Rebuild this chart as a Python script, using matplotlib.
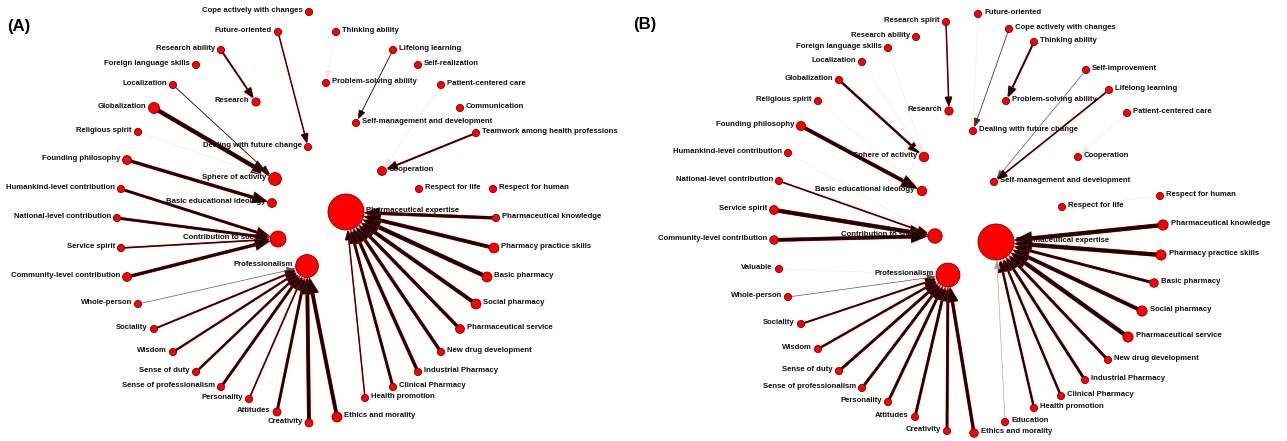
import matplotlib
matplotlib.use("Agg")
import matplotlib.pyplot as plt
from matplotlib.patches import Circle, FancyArrowPatch
import matplotlib.patheffects as pe
import numpy as np

W, H, DPI = 1287, 441, 100
PX_PT = 72 / DPI  # points per pixel

# ---------------- Panel A: ties (source, target, strength) ----------------
a_edges = [
    ("Future-oriented", "Dealing with future change", 1.0),
    ("Research ability", "Research", 1.4),
    ("Localization", "Sphere of activity", 0.9),
    ("Globalization", "Sphere of activity", 4.0),
    ("Religious spirit", "Sphere of activity", 0.3),
    ("Thinking ability", "Problem-solving ability", 0.3),
    ("Lifelong learning", "Self-management and development", 0.9),
    ("Teamwork among health professions", "Cooperation", 1.5),
    ("Patient-centered care", "Cooperation", 0.3),
    ("Founding philosophy", "Basic educational ideology", 3.0),
    ("Humankind-level contribution", "Contribution to society", 2.5),
    ("National-level contribution", "Contribution to society", 2.5),
    ("Service spirit", "Contribution to society", 1.2),
    ("Community-level contribution", "Contribution to society", 3.0),
    ("Whole-person", "Professionalism", 0.7),
    ("Sociality", "Professionalism", 1.5),
    ("Wisdom", "Professionalism", 1.8),
    ("Sense of duty", "Professionalism", 2.0),
    ("Sense of professionalism", "Professionalism", 2.5),
    ("Personality", "Professionalism", 1.2),
    ("Attitudes", "Professionalism", 2.5),
    ("Creativity", "Professionalism", 3.5),
    ("Ethics and morality", "Professionalism", 3.5),
    ("Pharmaceutical knowledge", "Pharmaceutical expertise", 3.0),
    ("Pharmacy practice skills", "Pharmaceutical expertise", 3.5),
    ("Basic pharmacy", "Pharmaceutical expertise", 4.0),
    ("Social pharmacy", "Pharmaceutical expertise", 3.5),
    ("Pharmaceutical service", "Pharmaceutical expertise", 3.0),
    ("New drug development", "Pharmaceutical expertise", 3.0),
    ("Industrial Pharmacy", "Pharmaceutical expertise", 3.0),
    ("Clinical Pharmacy", "Pharmaceutical expertise", 2.5),
    ("Health promotion", "Pharmaceutical expertise", 1.0),
]

# node weight (default 1)
a_weight = {
    "Pharmaceutical expertise": 25, "Professionalism": 10, "Contribution to society": 4.9,
    "Sphere of activity": 3.2, "Globalization": 2.3, "Basic educational ideology": 1.5,
    "Founding philosophy": 1.5, "Community-level contribution": 1.5, "Research": 1.3,
    "Ethics and morality": 1.9, "Pharmacy practice skills": 1.9, "Basic pharmacy": 1.9,
    "Social pharmacy": 1.9, "Pharmaceutical service": 1.5, "Cooperation": 1.5,
    "Creativity": 1.2, "Attitudes": 1.2,
}

# ---------------- Panel B ----------------
b_edges = [
    ("Research spirit", "Research", 1.0),
    ("Future-oriented", "Dealing with future change", 0.3),
    ("Cope actively with changes", "Dealing with future change", 0.8),
    ("Thinking ability", "Problem-solving ability", 1.5),
    ("Self-improvement", "Self-management and development", 0.7),
    ("Lifelong learning", "Self-management and development", 1.2),
    ("Patient-centered care", "Cooperation", 0.3),
    ("Respect for human", "Respect for life", 0.3),
    ("Globalization", "Sphere of activity", 2.0),
    ("Localization", "Sphere of activity", 0.3),
    ("Foreign language skills", "Sphere of activity", 0.3),
    ("Religious spirit", "Basic educational ideology", 0.3),
    ("Founding philosophy", "Basic educational ideology", 3.5),
    ("Humankind-level contribution", "Contribution to society", 0.3),
    ("National-level contribution", "Contribution to society", 1.2),
    ("Service spirit", "Contribution to society", 4.0),
    ("Community-level contribution", "Contribution to society", 3.5),
    ("Valuable", "Professionalism", 0.3),
    ("Whole-person", "Professionalism", 0.7),
    ("Sociality", "Professionalism", 1.5),
    ("Wisdom", "Professionalism", 2.0),
    ("Sense of duty", "Professionalism", 2.5),
    ("Sense of professionalism", "Professionalism", 2.5),
    ("Personality", "Professionalism", 2.5),
    ("Attitudes", "Professionalism", 2.5),
    ("Creativity", "Professionalism", 2.5),
    ("Ethics and morality", "Professionalism", 3.0),
    ("Pharmaceutical knowledge", "Pharmaceutical expertise", 4.0),
    ("Pharmacy practice skills", "Pharmaceutical expertise", 4.0),
    ("Basic pharmacy", "Pharmaceutical expertise", 2.5),
    ("Social pharmacy", "Pharmaceutical expertise", 3.5),
    ("Pharmaceutical service", "Pharmaceutical expertise", 4.0),
    ("New drug development", "Pharmaceutical expertise", 2.5),
    ("Industrial Pharmacy", "Pharmaceutical expertise", 2.5),
    ("Clinical Pharmacy", "Pharmaceutical expertise", 2.0),
    ("Health promotion", "Pharmaceutical expertise", 2.0),
    ("Education", "Pharmaceutical expertise", 0.5),
]

b_weight = {
    "Pharmaceutical expertise": 25, "Professionalism": 11, "Contribution to society": 4.0,
    "Sphere of activity": 1.7, "Basic educational ideology": 1.7, "Founding philosophy": 1.6,
    "Service spirit": 1.5, "Community-level contribution": 1.4, "Research": 1.3,
    "Pharmaceutical knowledge": 2.0, "Pharmacy practice skills": 2.0, "Social pharmacy": 2.0,
    "Pharmaceutical service": 2.0, "Basic pharmacy": 1.4, "Ethics and morality": 1.4,
}

# ---------------- circular layouts (pixel space) ----------------
a_layout = {
    "Cope actively with changes": (309, 12), "Future-oriented": (278, 32),
    "Research ability": (221, 50), "Foreign language skills": (196, 65),
    "Localization": (173, 85), "Research": (256, 102), "Globalization": (154, 108),
    "Religious spirit": (138, 132), "Dealing with future change": (308, 147),
    "Founding philosophy": (127, 160), "Sphere of activity": (275, 179),
    "Humankind-level contribution": (121, 189), "Basic educational ideology": (272, 203),
    "National-level contribution": (117, 218), "Contribution to society": (278, 239),
    "Service spirit": (121, 248), "Community-level contribution": (127, 277),
    "Professionalism": (307, 266), "Whole-person": (138, 304), "Sociality": (154, 329),
    "Wisdom": (173, 352), "Sense of duty": (196, 372), "Sense of professionalism": (221, 387),
    "Personality": (249, 399), "Attitudes": (277, 412), "Creativity": (309, 423),
    "Ethics and morality": (337, 417), "Health promotion": (365, 398),
    "Clinical Pharmacy": (393, 387), "Industrial Pharmacy": (418, 372),
    "New drug development": (441, 352), "Pharmaceutical service": (460, 329),
    "Social pharmacy": (476, 304), "Basic pharmacy": (487, 277),
    "Pharmacy practice skills": (494, 248), "Pharmaceutical knowledge": (496, 218),
    "Pharmaceutical expertise": (346, 212), "Respect for life": (419, 189),
    "Respect for human": (493, 189), "Cooperation": (382, 171),
    "Teamwork among health professions": (476, 133),
    "Self-management and development": (356, 123), "Communication": (460, 108),
    "Patient-centered care": (441, 85), "Problem-solving ability": (326, 83),
    "Self-realization": (418, 65), "Lifelong learning": (393, 50),
    "Thinking ability": (336, 32),
}
a_label_right = {
    "Thinking ability", "Lifelong learning", "Self-realization", "Problem-solving ability",
    "Patient-centered care", "Communication", "Self-management and development",
    "Teamwork among health professions", "Cooperation", "Respect for life",
    "Respect for human", "Pharmaceutical expertise", "Pharmaceutical knowledge",
    "Pharmacy practice skills", "Basic pharmacy", "Social pharmacy",
    "Pharmaceutical service", "New drug development", "Industrial Pharmacy",
    "Clinical Pharmacy", "Health promotion", "Ethics and morality",
}

b_layout = {
    "Research spirit": (946, 22), "Research ability": (916, 37),
    "Foreign language skills": (888, 48), "Localization": (862, 62),
    "Globalization": (839, 80), "Religious spirit": (818, 101), "Research": (949, 111),
    "Founding philosophy": (801, 126), "Humankind-level contribution": (788, 153),
    "Sphere of activity": (924, 157), "National-level contribution": (779, 181),
    "Basic educational ideology": (922, 191), "Service spirit": (774, 210),
    "Community-level contribution": (774, 240), "Contribution to society": (935, 236),
    "Valuable": (779, 269), "Professionalism": (948, 275), "Whole-person": (788, 297),
    "Sociality": (801, 324), "Wisdom": (818, 349), "Sense of duty": (839, 371),
    "Sense of professionalism": (862, 388), "Personality": (888, 402),
    "Attitudes": (915, 417), "Creativity": (947, 431), "Ethics and morality": (974, 433),
    "Education": (1005, 422), "Health promotion": (1034, 408),
    "Clinical Pharmacy": (1061, 396), "Industrial Pharmacy": (1085, 380),
    "New drug development": (1108, 360), "Pharmaceutical service": (1128, 337),
    "Social pharmacy": (1142, 311), "Basic pharmacy": (1154, 283),
    "Pharmacy practice skills": (1161, 255), "Pharmaceutical knowledge": (1163, 225),
    "Pharmaceutical expertise": (996, 242), "Respect for life": (1062, 207),
    "Respect for human": (1160, 196), "Self-management and development": (994, 182),
    "Cooperation": (1078, 157), "Dealing with future change": (973, 131),
    "Patient-centered care": (1127, 113), "Problem-solving ability": (1006, 101),
    "Lifelong learning": (1109, 90), "Self-improvement": (1086, 70),
    "Thinking ability": (1034, 42), "Cope actively with changes": (1009, 29),
    "Future-oriented": (978, 14),
}
b_label_right = {
    "Future-oriented", "Cope actively with changes", "Thinking ability", "Self-improvement",
    "Lifelong learning", "Problem-solving ability", "Patient-centered care",
    "Dealing with future change", "Cooperation", "Self-management and development",
    "Respect for human", "Respect for life", "Pharmaceutical expertise",
    "Pharmaceutical knowledge", "Pharmacy practice skills", "Basic pharmacy",
    "Social pharmacy", "Pharmaceutical service", "New drug development",
    "Industrial Pharmacy", "Clinical Pharmacy", "Health promotion", "Education",
    "Ethics and morality",
}

BASE_R = 3.6
LABEL_FONT = dict(family="Liberation Sans", fontsize=5.6, fontweight="bold", color="#111111")


def radius(weights, name):
    return BASE_R * np.sqrt(weights.get(name, 1.0))


def edge_color(w):
    faint = np.array([0.96, 0.90, 0.90])
    dark = np.array([0.12, 0.01, 0.01])
    t = np.clip((w - 0.3) / 0.6, 0, 1)
    return tuple(faint + (dark - faint) * t)


def draw_network(ax, layout, edges, weights, label_right):
    for src, tgt, w in edges:
        (x0, y0), (x1, y1) = layout[src], layout[tgt]
        lw = max(0.6, w * 0.95) * PX_PT
        col = edge_color(w)
        head = 0.75 + 0.08 * min(w, 4)
        arr = FancyArrowPatch(
            (x0, y0), (x1, y1),
            arrowstyle=f"-|>,head_length={head:.2f},head_width={head * 0.38:.2f}",
            mutation_scale=7, lw=lw, color=col,
            shrinkA=radius(weights, src) * PX_PT,
            shrinkB=radius(weights, tgt) * PX_PT + 0.2,
            zorder=2, joinstyle="miter",
        )
        if w >= 1.0:
            arr.set_path_effects([pe.Stroke(linewidth=lw + 0.45, foreground="#d41010"),
                                  pe.Normal()])
        ax.add_patch(arr)

    for name, (x, y) in layout.items():
        r = radius(weights, name)
        ax.add_patch(Circle((x, y), r, facecolor="#ff0000", edgecolor="#7a0000",
                            lw=0.6, zorder=3))
        gap = r + 2.5
        if name in label_right:
            ax.text(x + gap, y - 1.5, name, ha="left", va="center", zorder=4, **LABEL_FONT)
        else:
            ax.text(x - gap, y - 1.5, name, ha="right", va="center", zorder=4, **LABEL_FONT)


fig = plt.figure(figsize=(W / DPI, H / DPI), dpi=DPI)
ax = fig.add_axes([0, 0, 1, 1])
ax.set_xlim(0, W)
ax.set_ylim(H, 0)
ax.set_aspect("equal")
ax.axis("off")

draw_network(ax, a_layout, a_edges, a_weight, a_label_right)
draw_network(ax, b_layout, b_edges, b_weight, b_label_right)

ax.text(7, 26, "(A)", ha="left", va="center", family="Liberation Sans",
        fontsize=12, fontweight="bold")
ax.text(633, 24, "(B)", ha="left", va="center", family="Liberation Sans",
        fontsize=12, fontweight="bold")

fig.savefig("out.png", dpi=DPI, facecolor="white")
